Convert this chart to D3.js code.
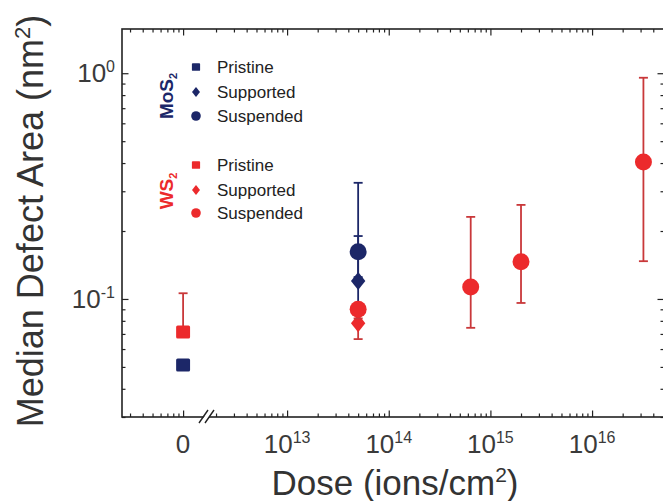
<!DOCTYPE html>
<html>
<head>
<meta charset="utf-8">
<script src="https://cdn.jsdelivr.net/npm/d3@7"></script>
<style>
  body { margin: 0; background: #fff; }
  svg { display: block; font-family: "Liberation Sans", Arial, sans-serif; }
</style>
</head>
<body>
<svg id="chart" width="663" height="501"></svg>
<script>
// rows: [dose (ions/cm2), median area (nm2), lower bar, upper bar]
var mos2Pristine  = [[0, 0.051, null, null]];
var mos2Supported = [[5e13, 0.120, 0.095, 0.190]];
var mos2Suspended = [[5e13, 0.162, 0.125, 0.327]];
var ws2Pristine   = [[0, 0.0714, 0.069, 0.106]];
var ws2Supported  = [[5e13, 0.078, 0.0664, 0.086]];
var ws2Suspended  = [[5e13, 0.090, 0.082, 0.095], [6.4e14, 0.113, 0.0745, 0.231],
                     [2e15, 0.146, 0.096, 0.261], [3.2e16, 0.404, 0.147, 0.955]];

var doseTicks = [1e13, 1e14, 1e15, 1e16];
var areaTicks = [1, 0.1];
var legendNames = ["Pristine", "Supported", "Suspended"];

var navy = "#1c2768", red = "#ec2a2c", redBar = "#c9383a", ink = "#222";

var L = 122, R = 664, T = 29, B = 417, xBreak = 207;
var svg = d3.select("#chart");

var y = d3.scaleLog().domain([0.030, 1.57]).range([B, T]);
// broken x axis: left piece holds the zero dose, right piece is the log dose
var xZero = d3.scaleLog().domain([0.25, 1.72]).range([L, xBreak]);
var xDose = d3.scaleLog().domain([1.63e12, 5.1e16]).range([xBreak, R]);
function xPos(d) { return d === 0 ? xZero(1) : xDose(d); }

function isMajor(v) { return Math.abs(Math.log10(v) - Math.round(Math.log10(v))) < 1e-6; }

// frame
svg.append("rect").attr("x", L).attr("y", T).attr("width", R - L).attr("height", B - T)
    .attr("fill", "none").attr("stroke", ink).attr("stroke-width", 1.6);

function tickAxis(axisFn, scale, values, len, transform) {
    var g = svg.append("g").attr("transform", transform)
        .call(axisFn(scale).tickValues(values).tickSize(-len).tickFormat(""));
    g.select(".domain").remove();
    g.selectAll(".tick line").attr("stroke", ink).attr("stroke-width", 1.2);
}

var zeroT = xZero.ticks().filter(function(v) { return v <= 1; });
var doseT = xDose.ticks();
var yT = y.ticks();
[[xZero, zeroT], [xDose, doseT]].forEach(function(p) {
    var mj = p[1].filter(isMajor), mn = p[1].filter(function(v) { return !isMajor(v); });
    tickAxis(d3.axisBottom, p[0], mn, 3.5, "translate(0," + B + ")");
    tickAxis(d3.axisBottom, p[0], mj, 6.5, "translate(0," + B + ")");
    tickAxis(d3.axisTop, p[0], mn, 3.5, "translate(0," + T + ")");
    tickAxis(d3.axisTop, p[0], mj, 6.5, "translate(0," + T + ")");
});
var yMj = yT.filter(isMajor), yMn = yT.filter(function(v) { return !isMajor(v); });
tickAxis(d3.axisLeft, y, yMn, 3.5, "translate(" + L + ",0)");
tickAxis(d3.axisLeft, y, yMj, 6.5, "translate(" + L + ",0)");
tickAxis(d3.axisRight, y, yMn, 3.5, "translate(" + R + ",0)");
tickAxis(d3.axisRight, y, yMj, 6.5, "translate(" + R + ",0)");

// axis break mark
svg.append("polygon").attr("points", [[200, 423], [208, 411], [213, 411], [205, 423]].join(" "))
    .attr("fill", "#fff");
svg.append("path").attr("d", "M199,423L208,410M205,423L214,410")
    .attr("stroke", ink).attr("stroke-width", 1.4);

// tick labels
function powLabel(g, exp) {
    g.append("tspan").text("10");
    g.append("tspan").attr("font-size", 16).attr("dy", -10).text(exp);
}
svg.append("text").attr("x", xZero(1)).attr("y", 453).attr("text-anchor", "middle")
    .attr("font-size", 26).attr("fill", "#3a3a3a").text("0");
doseTicks.forEach(function(d) {
    var t = svg.append("text").attr("x", xDose(d)).attr("y", 453).attr("text-anchor", "middle")
        .attr("font-size", 26).attr("fill", "#3a3a3a");
    powLabel(t, String(Math.round(Math.log10(d))));
});
areaTicks.forEach(function(v) {
    var t = svg.append("text").attr("x", 115).attr("y", y(v) + 9).attr("text-anchor", "end")
        .attr("font-size", 26).attr("fill", "#3a3a3a");
    powLabel(t, String(Math.round(Math.log10(v))));
});

// axis titles
var xt = svg.append("text").attr("x", 395).attr("y", 495).attr("text-anchor", "middle")
    .attr("font-size", 35).attr("fill", "#333");
xt.append("tspan").text("Dose (ions/cm");
xt.append("tspan").attr("font-size", 21).attr("dy", -13).text("2");
xt.append("tspan").attr("dy", 13).text(")");

var yt = svg.append("text").attr("transform", "translate(43,221) rotate(-90)")
    .attr("text-anchor", "middle").attr("font-size", 36).attr("fill", "#333");
yt.append("tspan").text("Median Defect Area (nm");
yt.append("tspan").attr("font-size", 22).attr("dy", -13).text("2");
yt.append("tspan").attr("dy", 13).text(")");

// markers
function marker(g, shape, cx, cy, s, color) {
    if (shape === 0) {
        g.append("rect").attr("x", cx - s * 0.82).attr("y", cy - s * 0.76)
            .attr("width", s * 1.64).attr("height", s * 1.52).attr("rx", s * 0.18).attr("fill", color);
    } else if (shape === 1) {
        g.append("path").attr("d", "M" + cx + "," + (cy - s) + "L" + (cx + s * 0.8) + "," + cy +
            "L" + cx + "," + (cy + s) + "L" + (cx - s * 0.8) + "," + cy + "Z").attr("fill", color);
    } else {
        g.append("circle").attr("cx", cx).attr("cy", cy).attr("r", s).attr("fill", color);
    }
}

function drawSeries(rows, shape, color, barColor) {
    var g = svg.append("g");
    rows.forEach(function(r) {
        var cx = xPos(r[0]);
        [r[2], r[3]].forEach(function(e) {
            if (e === null) return;
            g.append("line").attr("x1", cx).attr("x2", cx).attr("y1", y(r[1])).attr("y2", y(e))
                .attr("stroke", barColor).attr("stroke-width", 1.8);
            g.append("line").attr("x1", cx - 4.5).attr("x2", cx + 4.5).attr("y1", y(e)).attr("y2", y(e))
                .attr("stroke", barColor).attr("stroke-width", 1.8);
        });
    });
    rows.forEach(function(r) {
        marker(g, shape, xPos(r[0]), y(r[1]), shape === 1 ? 9 : 8.5, color);
    });
}

drawSeries(mos2Pristine, 0, navy, navy);
drawSeries(mos2Supported, 1, navy, navy);
drawSeries(mos2Suspended, 2, navy, navy);
drawSeries(ws2Pristine, 0, red, redBar);
drawSeries(ws2Supported, 1, red, redBar);
drawSeries(ws2Suspended, 2, red, redBar);

// legend
var leg = svg.append("g");
function legendBlock(label, color, rows, mid) {
    var t = leg.append("text").attr("transform", "translate(173," + mid + ") rotate(-90)")
        .attr("text-anchor", "middle").attr("font-size", 19).attr("font-weight", "bold")
        .attr("fill", color);
    t.append("tspan").text(label);
    t.append("tspan").attr("font-size", 11).attr("dy", 4).text("2");
    rows.forEach(function(ry, i) {
        marker(leg, i, 196, ry, i === 2 ? 4.8 : 5, color);
        leg.append("text").attr("x", 217).attr("y", ry + 6).attr("font-size", 17)
            .attr("fill", ink).text(legendNames[i]);
    });
}
legendBlock("MoS", navy, [67, 92, 116], 96);
legendBlock("WS", red, [165, 190, 213], 191);
</script>
</body>
</html>
